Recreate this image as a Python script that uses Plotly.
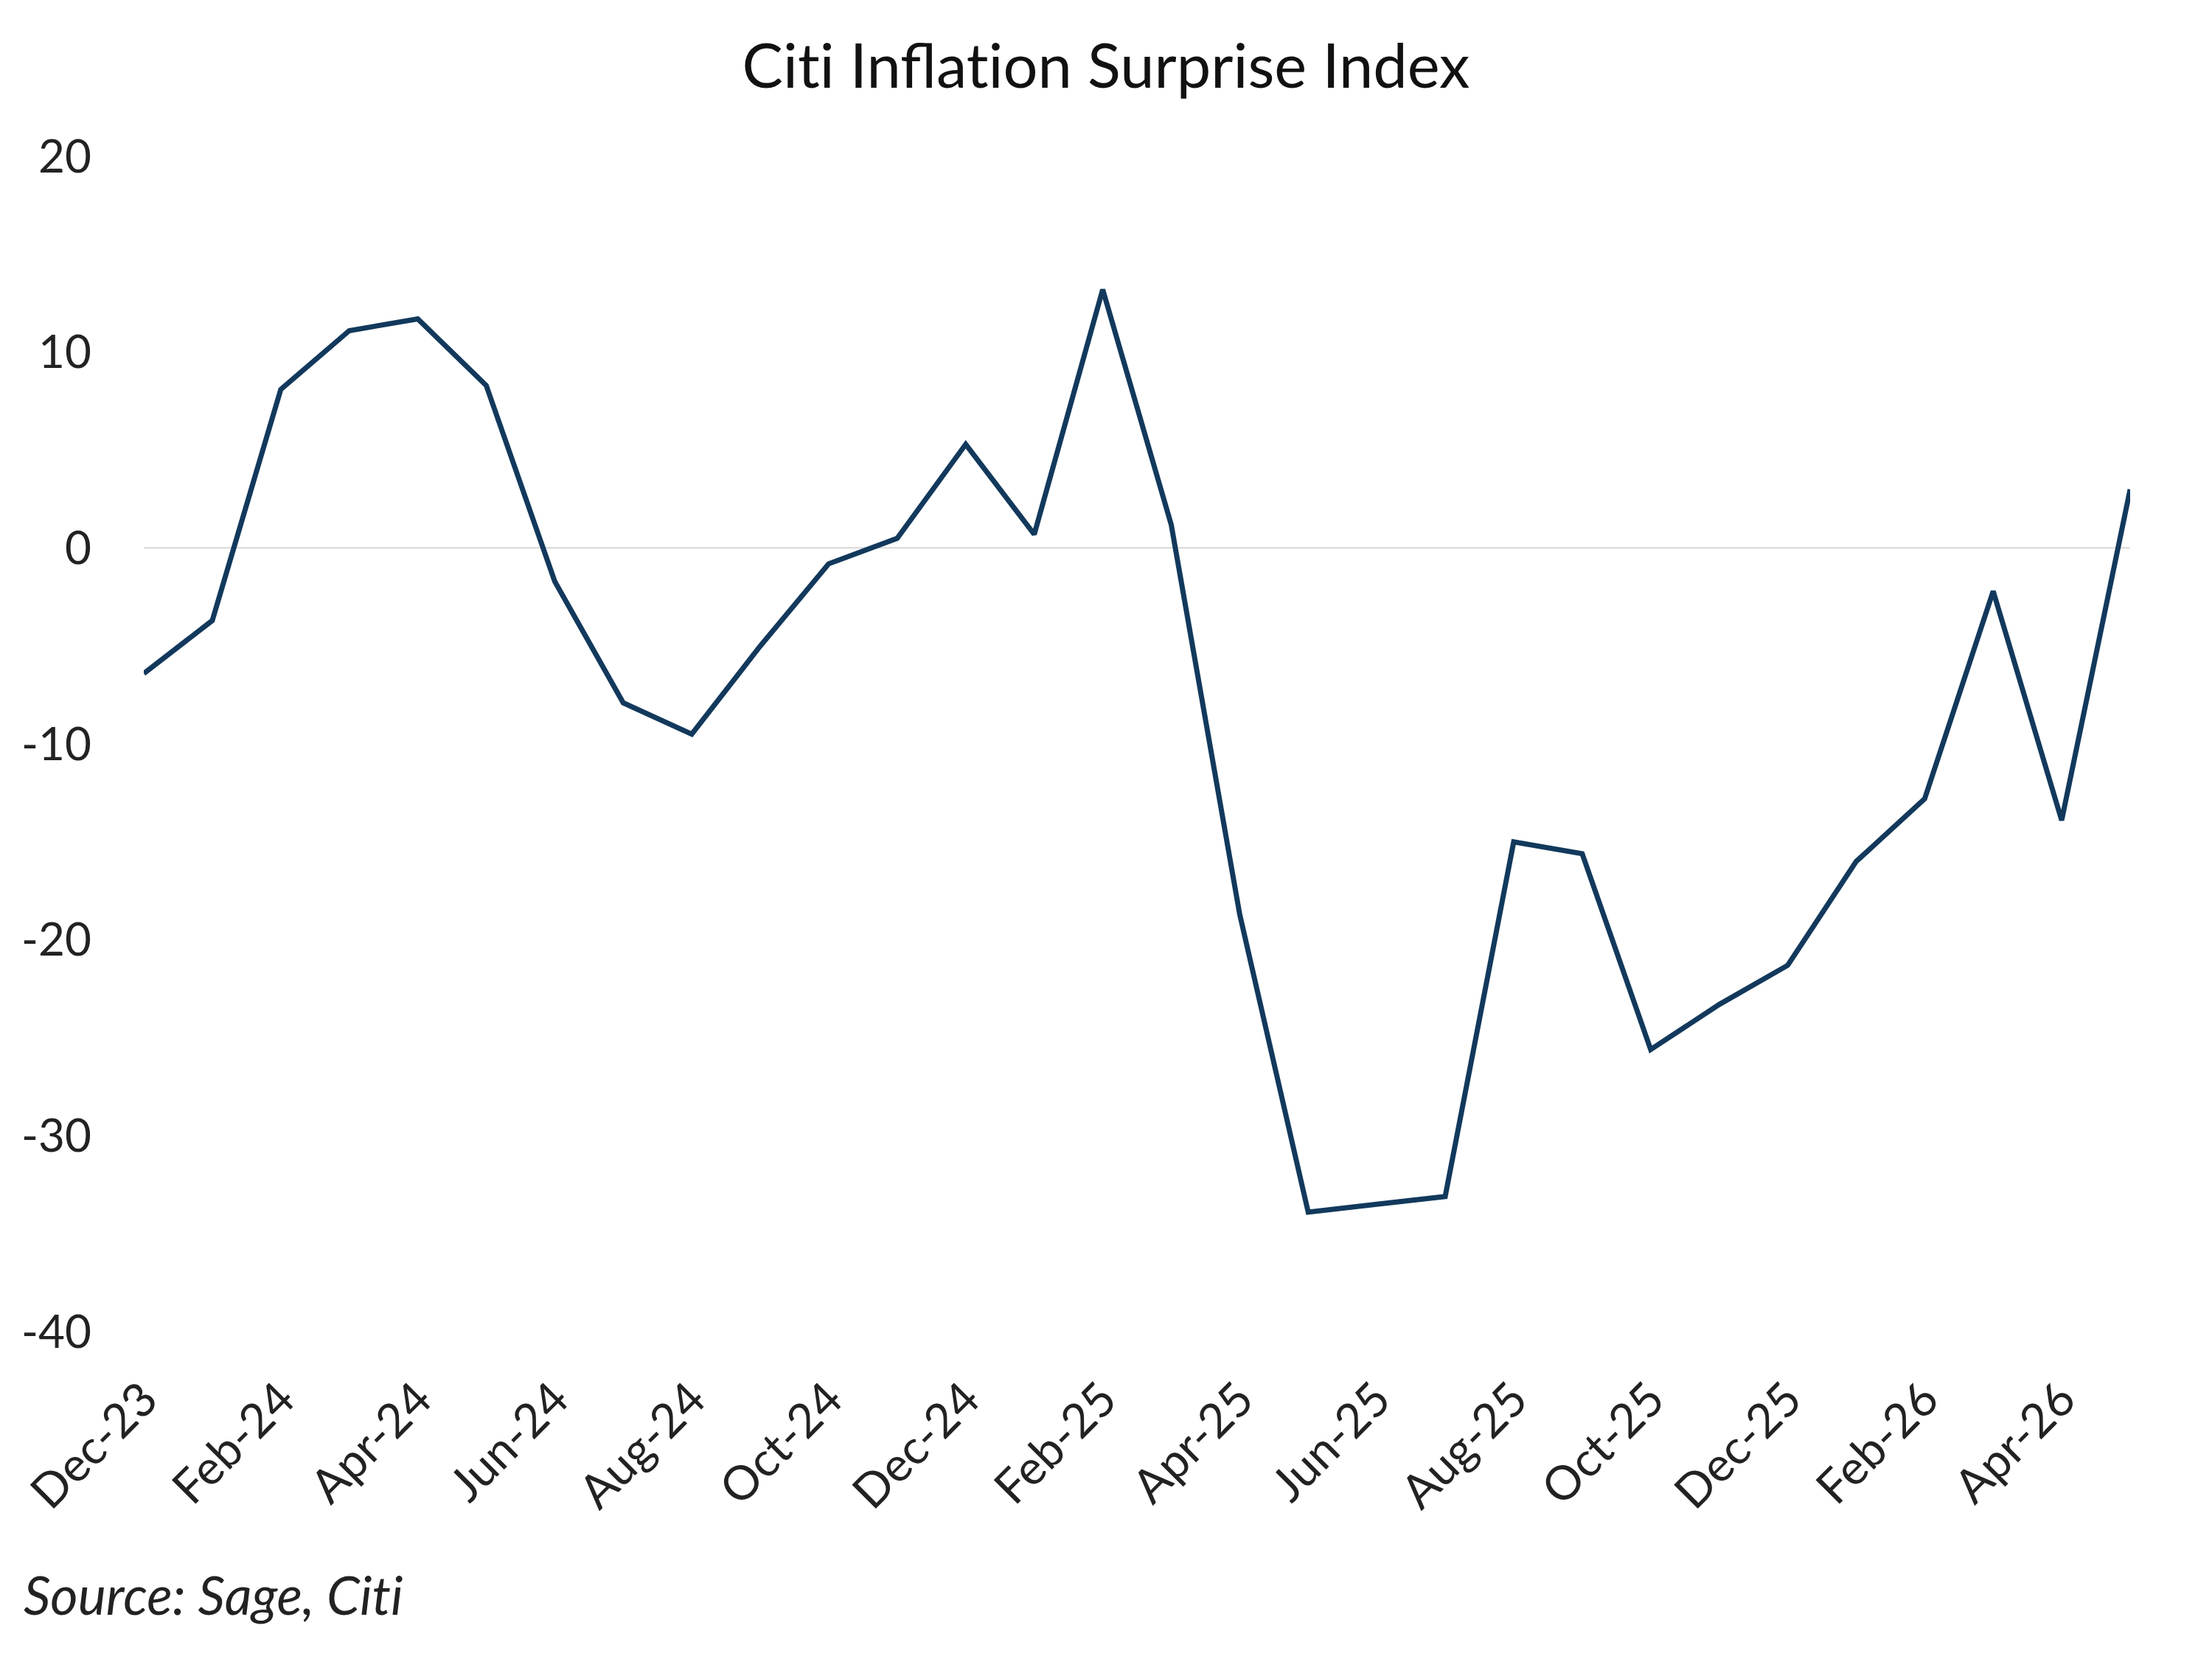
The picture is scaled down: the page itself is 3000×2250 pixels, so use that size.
import plotly.graph_objects as go

months = ["Dec-23", "Jan-24", "Feb-24", "Mar-24", "Apr-24", "May-24", "Jun-24", "Jul-24",
          "Aug-24", "Sep-24", "Oct-24", "Nov-24", "Dec-24", "Jan-25", "Feb-25", "Mar-25",
          "Apr-25", "May-25", "Jun-25", "Jul-25", "Aug-25", "Sep-25", "Oct-25", "Nov-25",
          "Dec-25", "Jan-26", "Feb-26", "Mar-26", "Apr-26", "May-26"]
values = [-6.4, -3.7, 8.1, 11.1, 11.7, 8.3, -1.7, -7.9, -9.5, -5.0, -0.8, 0.5, 5.3, 0.7,
          13.2, 1.2, -18.7, -33.9, -33.5, -33.1, -15.0, -15.6, -25.6, -23.3, -21.3, -16.0,
          -12.8, -2.2, -13.9, 3.0]
tick_labels = months[::2]
y_ticks = [-40, -30, -20, -10, 0, 10, 20]
y_tick_text = ["-40", "-30", "-20", "-10", "0", "10", "20"]

FONT = "Lato"
ZW = "\u200c"  # prevents the 'ti' ligature
title_text = f"Cit{ZW}i Inflat{ZW}ion Surprise Index"
source_text = f"<i>Source: Sage, Cit{ZW}i</i>"

fig = go.Figure()
fig.add_trace(go.Scatter(x=months, y=values, mode="lines",
                         line=dict(color="#12395C", width=7), showlegend=False))

fig.update_layout(
    width=3000, height=2250,
    margin=dict(l=195, r=111, t=212, b=444),
    paper_bgcolor="white", plot_bgcolor="white",
    font=dict(family=FONT, color="#222222"),
    title=dict(text=title_text, x=0.5, xanchor="center",
               y=1 - 90 / 2250, yanchor="middle", font=dict(size=83, family=FONT, color="#111111")),
    annotations=[dict(text=source_text, xref="paper", yref="paper",
                      x=-(195 - 30) / 2694, xanchor="left", y=-(2162 - 1806) / 1594, yanchor="middle",
                      showarrow=False, font=dict(size=72, family=FONT, color="#222222"))],
)
fig.update_xaxes(type="category", categoryorder="array", categoryarray=months,
                 range=[0, 29], tickvals=tick_labels, ticktext=tick_labels,
                 tickangle=-45, tickfont=dict(size=64, family=FONT, color="#222222"),
                 showgrid=False, zeroline=False, showline=False, ticks="",
                 ticklabelstandoff=40)
fig.update_yaxes(range=[-40, 20], tickvals=y_ticks, ticktext=y_tick_text, showgrid=False,
                 zeroline=True, zerolinecolor="#D9D9D9", zerolinewidth=2,
                 showline=False, ticks="", tickfont=dict(size=62, family=FONT, color="#222222"),
                 ticklabelstandoff=70)

fig.write_html("out.html")
